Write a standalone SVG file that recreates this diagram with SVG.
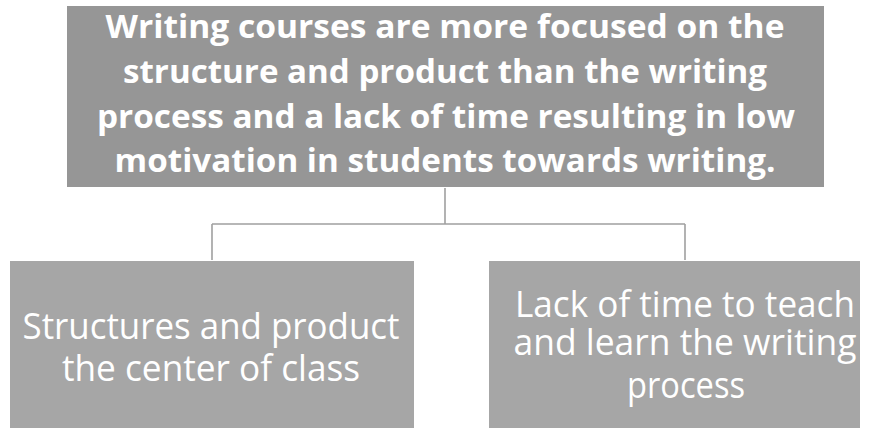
<svg xmlns="http://www.w3.org/2000/svg" width="869" height="428" viewBox="0 0 869 428">
<style>
.top{fill:#969696}
.sub{fill:#a6a6a6}
.tt{font-family:"Open Sans","Liberation Sans",sans-serif;font-weight:bold;font-size:32px;fill:#ffffff;text-anchor:middle}
.st{font-family:"Open Sans","Liberation Sans",sans-serif;font-size:37px;fill:#ffffff;text-anchor:middle}
.conn{fill:none;stroke:#a0a0a0;stroke-width:1.6}
</style>
<rect width="869" height="428" fill="#ffffff"/>
<g id="connectors">
<path class="conn" d="M445 188 V224 M212 224 H685 M212 224 V260 M685 224 V260"/>
</g>
<g id="node-top">
<rect class="top" x="67" y="6" width="757" height="181"/>
<text class="tt" x="445" y="38" textLength="679" lengthAdjust="spacingAndGlyphs">Writing courses are more focused on the</text>
<text class="tt" x="445" y="83" textLength="644" lengthAdjust="spacingAndGlyphs">structure and product than the writing</text>
<text class="tt" x="446" y="128" textLength="698" lengthAdjust="spacingAndGlyphs">process and a lack of time resulting in low</text>
<text class="tt" x="445" y="172" textLength="661" lengthAdjust="spacingAndGlyphs">motivation in students towards writing.</text>
</g>
<g id="node-left">
<rect class="sub" x="10" y="261" width="404" height="167"/>
<text class="st" x="211" y="339" textLength="377" lengthAdjust="spacingAndGlyphs">Structures and product</text>
<text class="st" x="211" y="381" textLength="298" lengthAdjust="spacingAndGlyphs">the center of class</text>
</g>
<g id="node-right">
<rect class="sub" x="489" y="261" width="371" height="167"/>
<text class="st" x="685" y="317" textLength="340" lengthAdjust="spacingAndGlyphs">Lack of time to teach</text>
<text class="st" x="685" y="355" textLength="343" lengthAdjust="spacingAndGlyphs">and learn the writing</text>
<text class="st" x="686" y="398" textLength="118" lengthAdjust="spacingAndGlyphs">process</text>
</g>
</svg>
